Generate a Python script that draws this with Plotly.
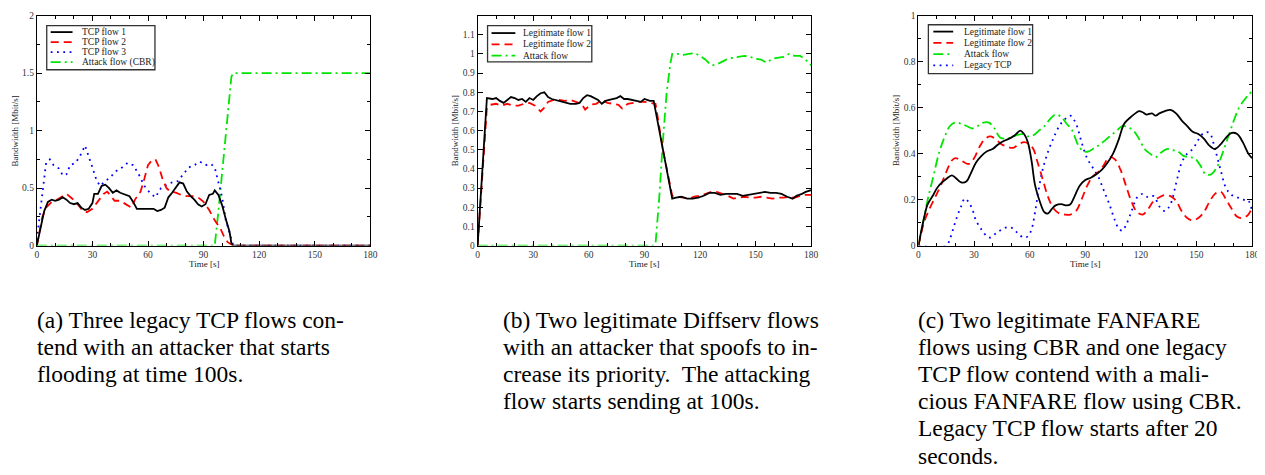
import plotly.graph_objects as go

# ---------------- data ----------------
# (a)
a_f1_t = [0, 2, 4, 6, 8, 10, 12, 14, 16, 18, 20, 22, 24, 26, 28, 30, 31, 33, 35, 37, 39, 41, 43, 45, 48, 50, 52, 54, 57, 60, 63, 65, 67, 69, 71, 73, 75, 77, 79, 81, 83, 85, 87, 89, 91, 93, 95, 96, 98, 100, 102, 104, 105, 106, 180]
a_f1_v = [0, 0.15, 0.3, 0.38, 0.40, 0.39, 0.40, 0.42, 0.40, 0.37, 0.36, 0.37, 0.33, 0.31, 0.32, 0.37, 0.45, 0.45, 0.52, 0.53, 0.50, 0.46, 0.48, 0.46, 0.44, 0.43, 0.38, 0.32, 0.32, 0.32, 0.32, 0.30, 0.31, 0.33, 0.42, 0.46, 0.50, 0.55, 0.54, 0.47, 0.43, 0.40, 0.36, 0.34, 0.36, 0.44, 0.45, 0.48, 0.44, 0.35, 0.23, 0.12, 0.02, 0, 0]
a_f2_t = [0, 3, 5, 8, 10, 13, 16, 19, 22, 25, 27, 30, 33, 36, 38, 40, 42, 45, 48, 51, 53, 56, 58, 60, 62, 64, 66, 68, 70, 72, 75, 78, 81, 84, 87, 90, 93, 96, 99, 101, 103, 105, 106, 180]
a_f2_v = [0, 0.25, 0.33, 0.38, 0.39, 0.42, 0.45, 0.41, 0.36, 0.30, 0.29, 0.32, 0.38, 0.45, 0.47, 0.43, 0.39, 0.39, 0.36, 0.33, 0.40, 0.47, 0.58, 0.70, 0.74, 0.75, 0.68, 0.57, 0.50, 0.47, 0.46, 0.44, 0.43, 0.43, 0.42, 0.38, 0.31, 0.22, 0.15, 0.08, 0.03, 0.01, 0, 0]
a_f3_t = [0, 2, 4, 5, 7, 9, 12, 14, 16, 18, 21, 24, 26, 28, 30, 32, 34, 37, 40, 43, 46, 49, 52, 55, 58, 61, 64, 67, 70, 73, 76, 79, 82, 85, 88, 91, 94, 96, 98, 100, 102, 104, 106, 180]
a_f3_v = [0.05, 0.3, 0.6, 0.72, 0.75, 0.70, 0.67, 0.61, 0.62, 0.70, 0.72, 0.80, 0.87, 0.78, 0.68, 0.58, 0.52, 0.56, 0.60, 0.65, 0.68, 0.72, 0.70, 0.62, 0.52, 0.46, 0.42, 0.50, 0.53, 0.55, 0.56, 0.62, 0.68, 0.70, 0.73, 0.70, 0.71, 0.68, 0.55, 0.42, 0.22, 0.10, 0, 0]
a_atk_t = [0, 96, 98, 100, 102, 104, 105, 106, 180]
a_atk_v = [0, 0, 0.3, 0.65, 1.0, 1.35, 1.47, 1.5, 1.5]

# (b)
b_f1_t = [0, 5, 8, 10, 12, 14, 16, 18, 20, 22, 24, 26, 28, 30, 32, 34, 36, 38, 40, 42, 45, 48, 50, 53, 55, 57, 59, 61, 63, 65, 67, 69, 71, 73, 75, 77, 79, 81, 83, 85, 88, 90, 93, 95, 100, 105, 107, 110, 113, 116, 119, 122, 125, 128, 131, 134, 137, 140, 143, 146, 149, 152, 155, 158, 161, 164, 167, 170, 172, 175, 177, 180]
b_f1_v = [0, 0.77, 0.765, 0.77, 0.755, 0.745, 0.76, 0.775, 0.77, 0.76, 0.765, 0.75, 0.77, 0.76, 0.78, 0.795, 0.80, 0.775, 0.765, 0.76, 0.755, 0.745, 0.74, 0.74, 0.745, 0.77, 0.785, 0.78, 0.77, 0.76, 0.74, 0.755, 0.76, 0.765, 0.77, 0.78, 0.765, 0.765, 0.76, 0.755, 0.75, 0.765, 0.755, 0.755, 0.50, 0.245, 0.25, 0.255, 0.245, 0.245, 0.25, 0.26, 0.275, 0.275, 0.265, 0.27, 0.27, 0.27, 0.26, 0.265, 0.27, 0.275, 0.28, 0.275, 0.275, 0.27, 0.255, 0.245, 0.26, 0.27, 0.28, 0.29]
b_f2_t = [0, 5, 7, 10, 13, 16, 19, 22, 25, 28, 31, 34, 36, 38, 41, 44, 47, 50, 53, 56, 58, 61, 64, 67, 70, 73, 76, 78, 81, 84, 87, 90, 94, 96, 100, 105, 108, 111, 114, 117, 120, 123, 126, 129, 132, 135, 138, 141, 144, 147, 150, 153, 156, 159, 162, 165, 168, 171, 174, 177, 180]
b_f2_v = [0, 0.72, 0.735, 0.74, 0.73, 0.74, 0.73, 0.73, 0.74, 0.745, 0.73, 0.70, 0.72, 0.75, 0.76, 0.76, 0.755, 0.76, 0.75, 0.74, 0.71, 0.735, 0.74, 0.76, 0.745, 0.74, 0.735, 0.715, 0.74, 0.745, 0.75, 0.75, 0.745, 0.74, 0.50, 0.26, 0.255, 0.25, 0.245, 0.255, 0.26, 0.27, 0.28, 0.28, 0.27, 0.26, 0.245, 0.25, 0.255, 0.25, 0.25, 0.255, 0.25, 0.245, 0.25, 0.25, 0.255, 0.25, 0.26, 0.265, 0.265]
b_atk_t = [0, 95, 96, 98, 100, 102, 104, 105, 108, 111, 114, 117, 120, 123, 126, 129, 132, 135, 138, 141, 144, 147, 150, 153, 156, 159, 162, 165, 168, 171, 174, 177, 180]
b_atk_v = [0, 0, 0.01, 0.25, 0.55, 0.80, 0.95, 1.0, 1.0, 0.995, 1.0, 1.005, 0.99, 0.97, 0.94, 0.945, 0.96, 0.975, 0.98, 0.985, 0.99, 0.985, 0.975, 0.97, 0.955, 0.975, 0.98, 0.985, 1.0, 0.99, 0.99, 0.97, 0.94]

# (c)
c_f1_t = [0, 3, 5, 8, 10, 12, 15, 18, 20, 23, 26, 28, 31, 34, 37, 40, 43, 46, 49, 52, 55, 57, 59, 61, 63, 66, 68, 70, 72, 74, 77, 80, 82, 84, 87, 90, 93, 96, 99, 102, 105, 108, 111, 114, 117, 119, 121, 123, 126, 128, 130, 133, 136, 139, 142, 145, 148, 151, 154, 157, 160, 163, 166, 169, 172, 175, 178, 180]
c_f1_v = [0, 0.12, 0.18, 0.22, 0.25, 0.27, 0.29, 0.305, 0.295, 0.275, 0.28, 0.31, 0.36, 0.39, 0.41, 0.42, 0.44, 0.455, 0.465, 0.48, 0.50, 0.485, 0.45, 0.37, 0.26, 0.18, 0.145, 0.14, 0.16, 0.175, 0.18, 0.175, 0.18, 0.21, 0.26, 0.285, 0.295, 0.31, 0.33, 0.36, 0.40, 0.46, 0.53, 0.555, 0.575, 0.585, 0.58, 0.57, 0.575, 0.565, 0.575, 0.585, 0.59, 0.575, 0.545, 0.52, 0.495, 0.485, 0.465, 0.435, 0.42, 0.44, 0.47, 0.49, 0.485, 0.45, 0.40, 0.38]
c_f2_t = [0, 3, 6, 9, 12, 15, 18, 20, 23, 27, 30, 33, 36, 39, 42, 45, 48, 51, 54, 57, 60, 62, 64, 67, 70, 73, 76, 79, 82, 85, 88, 91, 94, 97, 100, 103, 106, 109, 112, 115, 118, 121, 124, 127, 130, 133, 136, 139, 142, 145, 148, 151, 154, 157, 160, 163, 166, 169, 172, 175, 178, 180]
c_f2_v = [0, 0.10, 0.16, 0.21, 0.26, 0.32, 0.37, 0.38, 0.37, 0.355, 0.38, 0.43, 0.465, 0.475, 0.46, 0.44, 0.43, 0.425, 0.44, 0.45, 0.44, 0.42, 0.37, 0.29, 0.21, 0.16, 0.14, 0.135, 0.135, 0.15, 0.20, 0.26, 0.30, 0.32, 0.35, 0.385, 0.375, 0.33, 0.26, 0.19, 0.145, 0.135, 0.16, 0.195, 0.21, 0.22, 0.215, 0.195, 0.15, 0.12, 0.11, 0.12, 0.145, 0.19, 0.225, 0.235, 0.20, 0.16, 0.125, 0.12, 0.135, 0.165]
c_atk_t = [0, 3, 5, 8, 11, 14, 17, 20, 23, 26, 29, 32, 35, 38, 41, 44, 47, 50, 53, 56, 59, 62, 65, 68, 71, 74, 77, 80, 83, 86, 89, 92, 95, 98, 101, 104, 107, 110, 113, 116, 119, 122, 125, 128, 131, 134, 137, 140, 143, 146, 149, 152, 155, 158, 161, 164, 167, 170, 173, 176, 178, 180]
c_atk_v = [0, 0.12, 0.20, 0.30, 0.40, 0.47, 0.52, 0.535, 0.53, 0.52, 0.51, 0.52, 0.535, 0.535, 0.51, 0.47, 0.465, 0.47, 0.48, 0.485, 0.475, 0.48, 0.50, 0.52, 0.55, 0.57, 0.56, 0.53, 0.50, 0.44, 0.41, 0.41, 0.425, 0.44, 0.46, 0.48, 0.50, 0.52, 0.515, 0.50, 0.465, 0.42, 0.40, 0.385, 0.405, 0.42, 0.415, 0.41, 0.39, 0.385, 0.38, 0.35, 0.31, 0.31, 0.34, 0.40, 0.47, 0.54, 0.60, 0.635, 0.655, 0.67]
c_tcp_t = [0, 15, 17, 19, 21, 23, 25, 27, 29, 31, 34, 37, 39, 42, 45, 48, 51, 54, 57, 59, 61, 63, 65, 67, 70, 73, 76, 79, 82, 85, 88, 91, 94, 97, 100, 103, 106, 108, 110, 112, 115, 118, 121, 124, 127, 130, 133, 136, 139, 142, 145, 148, 151, 154, 157, 160, 163, 166, 169, 172, 175, 178, 180]
c_tcp_v = [0, 0, 0.03, 0.08, 0.13, 0.17, 0.205, 0.19, 0.16, 0.11, 0.07, 0.04, 0.035, 0.055, 0.07, 0.08, 0.075, 0.05, 0.035, 0.04, 0.07, 0.15, 0.25, 0.33, 0.41, 0.47, 0.52, 0.55, 0.565, 0.53, 0.45, 0.38, 0.34, 0.30, 0.24, 0.18, 0.11, 0.075, 0.065, 0.09, 0.15, 0.21, 0.225, 0.21, 0.215, 0.17, 0.15, 0.18, 0.27, 0.36, 0.40, 0.42, 0.46, 0.49, 0.49, 0.42, 0.33, 0.25, 0.22, 0.21, 0.20, 0.195, 0.15]

legend_a = ["TCP flow 1", "TCP flow 2", "TCP flow 3", "Attack flow (CBR)"]
legend_b = ["Legitimate flow 1", "Legitimate flow 2", "Attack flow"]
legend_c = ["Legitimate flow 1", "Legitimate flow 2", "Attack flow", "Legacy TCP"]
x_ticks = [0, 30, 60, 90, 120, 150, 180]
y_ticks_a = [0, 0.5, 1, 1.5, 2]
y_ticks_b = [0, 0.1, 0.2, 0.3, 0.4, 0.5, 0.6, 0.7, 0.8, 0.9, 1, 1.1]
y_ticks_c = [0, 0.2, 0.4, 0.6, 0.8, 1]
x_title = "Time [s]"
y_title = "Bandwidth [Mbit/s]"
captions = {
    "a": ["(a) Three legacy TCP flows con-", "tend with an attacker that starts", "flooding at time 100s."],
    "b": ["(b) Two legitimate Diffserv flows", "with an attacker that spoofs to in-", "crease its priority.  The attacking", "flow starts sending at 100s."],
    "c": ["(c) Two legitimate FANFARE", "flows using CBR and one legacy", "TCP flow contend with a mali-", "cious FANFARE flow using CBR.", "Legacy TCP flow starts after 20", "seconds."],
}

# ---------------- styling ----------------
# the page body has an 8px margin: figure placed at (8, 8)
OFF = 8
W, H = 1265 - OFF, 475 - OFF
SERIF = "Liberation Serif"
BLACK = dict(color="black", width=1.8)
RED = dict(color="#ff0000", width=1.8, dash="8px,5px")
BLUE = dict(color="#0000ff", width=1.8, dash="1.8px,4.5px")
GREEN = dict(color="#00e600", width=1.8, dash="10px,4px,2px,4px")

def px(x):
    return (x - OFF) / W

def py(y):
    return 1 - (y - OFF) / H

plot_x = {"a": (35, 371), "b": (479, 815), "c": (923, 1259)}
plot_y = (10.7, 245.7)

fig = go.Figure()

def add(t, v, style, ax, shape="linear"):
    fig.add_trace(go.Scatter(x=t, y=v, mode="lines", line=dict(style, shape=shape),
                             xaxis="x" + ax, yaxis="y" + ax, showlegend=False,
                             hoverinfo="skip"))

add(a_atk_t, a_atk_v, GREEN, "")
add(a_f3_t, a_f3_v, BLUE, "")
add(a_f2_t, a_f2_v, RED, "")
add(a_f1_t, a_f1_v, BLACK, "")

add(b_atk_t, b_atk_v, GREEN, "2")
add(b_f2_t, b_f2_v, RED, "2")
add(b_f1_t, b_f1_v, BLACK, "2")

add(c_tcp_t, c_tcp_v, BLUE, "3", "spline")
add(c_atk_t, c_atk_v, GREEN, "3", "spline")
add(c_f2_t, c_f2_v, RED, "3", "spline")
add(c_f1_t, c_f1_v, BLACK, "3", "spline")

tickfont = dict(family=SERIF, size=9.5, color="#333333")

def xaxis(key):
    x0, x1 = plot_x[key]
    return dict(domain=[px(x0), px(x1)], range=[0, 180], tickvals=x_ticks,
                ticks="inside", ticklen=5, tickcolor="black", tickwidth=1,
                minor=dict(dtick=10, tick0=0, ticks="inside", ticklen=3, tickcolor="black"),
                showline=True, linecolor="black", linewidth=1, mirror="allticks",
                showgrid=False, zeroline=False, tickfont=tickfont, fixedrange=True,
                ticklabeloverflow="allow")

def yaxis(anchor, rng, tv, minor):
    d = dict(domain=[py(plot_y[1]), py(plot_y[0])], range=rng, tickvals=tv,
             ticktext=[f"{v:g}" for v in tv],
             anchor=anchor, ticks="inside", ticklen=5, tickcolor="black", tickwidth=1,
             showline=True, linecolor="black", linewidth=1, mirror="allticks",
             showgrid=False, zeroline=False, tickfont=tickfont, fixedrange=True,
             ticklabeloverflow="allow")
    if minor:
        d["minor"] = dict(dtick=minor, tick0=0, ticks="inside", ticklen=3, tickcolor="black")
    return d

layout = dict(
    width=W, height=H, margin=dict(l=0, r=0, t=0, b=0),
    paper_bgcolor="white", plot_bgcolor="white", showlegend=False,
    xaxis=dict(xaxis("a"), anchor="y"),
    xaxis2=dict(xaxis("b"), anchor="y2"),
    xaxis3=dict(xaxis("c"), anchor="y3"),
    yaxis=yaxis("x", [0, 2], y_ticks_a, 0.25),
    yaxis2=yaxis("x2", [0, 1.2], y_ticks_b, None),
    yaxis3=yaxis("x3", [0, 1], y_ticks_c, 0.1),
)
fig.update_layout(**layout)

annotations = []
shapes = []

title_font = dict(family=SERIF, size=9, color="#222222")
ytitle_x = {"a": 13, "b": 457, "c": 901}
for k in ["a", "b", "c"]:
    x0, x1 = plot_x[k]
    annotations.append(dict(text=x_title, x=px((x0 + x1) / 2), y=py(264.5), xref="paper", yref="paper",
                            showarrow=False, font=title_font, xanchor="center", yanchor="middle",
                            borderpad=0))
    annotations.append(dict(text=y_title, x=px(ytitle_x[k]), y=py(128), xref="paper", yref="paper",
                            showarrow=False, font=title_font, textangle=-90,
                            xanchor="center", yanchor="middle"))

leg_font = dict(family=SERIF, size=9.5, color="#222222")
def legend(box, names, styles, sample, text_x, row0, gap):
    bx0, by0, bx1, by1 = box
    shapes.append(dict(type="rect", xref="paper", yref="paper", x0=px(bx0), x1=px(bx1),
                       y0=py(by1), y1=py(by0), line=dict(color="#333333", width=1.3),
                       fillcolor="white", layer="above"))
    for i, (n, s) in enumerate(zip(names, styles)):
        yy = row0 + i * gap
        shapes.append(dict(type="line", xref="paper", yref="paper", x0=px(sample[0]), x1=px(sample[1]),
                           y0=py(yy), y1=py(yy), line=dict(color=s["color"], width=1.8, dash=s.get("dash", "solid")),
                           layer="above"))
        annotations.append(dict(text=n, x=px(text_x), y=py(yy), xref="paper", yref="paper",
                                showarrow=False, font=leg_font, xanchor="left", yanchor="middle"))

legend((45, 21, 154, 66), legend_a, [BLACK, RED, BLUE, GREEN], (49, 71), 79, 27.5, 10.2)
legend((489, 21, 594, 58), legend_b, [BLACK, RED, GREEN], (493, 517), 523, 28.5, 11.5)
legend((933, 20, 1038, 70), legend_c, [BLACK, RED, GREEN, BLUE], (938, 958), 967, 27, 11.5)

cap_font = dict(family=SERIF, size=23.5, color="black")
cap_x = {"a": 33, "b": 503, "c": 921}
for k, lines in captions.items():
    for i, line in enumerate(lines):
        baseline = 329.3 + i * 27.8
        annotations.append(dict(text=line, x=px(cap_x[k]), y=py(baseline - 8), xref="paper", yref="paper",
                                showarrow=False, font=cap_font, xanchor="left", yanchor="middle"))

fig.update_layout(annotations=annotations, shapes=shapes)
fig.write_html("out.html")
